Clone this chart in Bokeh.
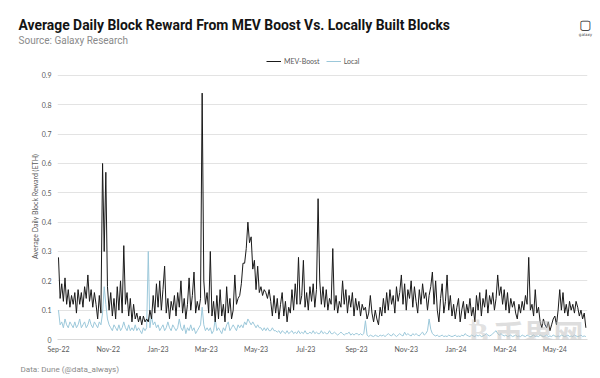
import datetime as dt
from bokeh.plotting import figure
from bokeh.layouts import column
from bokeh.models import (ColumnDataSource, FixedTicker, Legend, LegendItem, Label,
                          DatetimeTickFormatter, Range1d)
from bokeh.embed import file_html
from bokeh.resources import INLINE

# ---------------- data (one value every 2 days from 2022-09-15) ----------------
start_date = dt.date(2022, 9, 15)
step_days = 2

mev_boost = [
    0.28, 0.14, 0.19, 0.13, 0.21, 0.12, 0.17, 0.11, 0.15, 0.12,
    0.16, 0.09, 0.17, 0.12, 0.16, 0.11, 0.18, 0.14, 0.22, 0.13,
    0.17, 0.11, 0.16, 0.12, 0.07, 0.15, 0.09,
    0.60, 0.30, 0.57, 0.18,
    0.10, 0.16, 0.08, 0.14, 0.07, 0.18, 0.10, 0.20, 0.09,
    0.32, 0.12, 0.16, 0.08, 0.14, 0.06, 0.12,
    0.07, 0.09, 0.06, 0.08, 0.05, 0.08, 0.06, 0.07, 0.06,
    0.10, 0.07, 0.15, 0.09, 0.19, 0.11, 0.20, 0.10, 0.17, 0.25,
    0.09, 0.14, 0.07, 0.13, 0.10, 0.15, 0.08, 0.16, 0.11, 0.20,
    0.09, 0.14, 0.07, 0.12, 0.21, 0.10, 0.15, 0.23, 0.09, 0.13, 0.10, 0.14,
    0.84, 0.20, 0.12, 0.16, 0.09, 0.30,
    0.08, 0.13, 0.06, 0.15, 0.07, 0.17, 0.08, 0.12, 0.06, 0.18,
    0.09, 0.14, 0.07, 0.10, 0.22, 0.12, 0.14, 0.15, 0.19, 0.26,
    0.26, 0.31, 0.40, 0.33, 0.35, 0.24, 0.27, 0.17, 0.25, 0.16, 0.18, 0.15, 0.17,
    0.16, 0.14, 0.17, 0.13, 0.08,
    0.15, 0.09, 0.14, 0.07, 0.12, 0.16, 0.08, 0.13, 0.06, 0.11, 0.09, 0.17, 0.10, 0.19, 0.12,
    0.28, 0.12, 0.15, 0.27, 0.11, 0.16, 0.10, 0.18, 0.13, 0.19, 0.11, 0.17,
    0.48, 0.20, 0.12, 0.18, 0.11, 0.17, 0.10, 0.14, 0.12,
    0.31, 0.10, 0.15, 0.09, 0.13, 0.11, 0.20, 0.12,
    0.17, 0.09, 0.15, 0.11, 0.16, 0.08, 0.14, 0.10, 0.13, 0.08, 0.12, 0.10, 0.11, 0.07, 0.09,
    0.15, 0.09, 0.06, 0.10, 0.07, 0.05,
    0.11, 0.08, 0.14, 0.09, 0.16, 0.10, 0.17, 0.12, 0.15, 0.09, 0.18, 0.13, 0.16, 0.22,
    0.12, 0.19, 0.10, 0.17, 0.14, 0.20, 0.11, 0.18, 0.13, 0.09, 0.17, 0.12, 0.19, 0.14, 0.16, 0.10,
    0.15, 0.18, 0.23, 0.12, 0.20, 0.10, 0.06, 0.14, 0.19, 0.09, 0.13, 0.22, 0.10, 0.15,
    0.08, 0.12, 0.07, 0.11, 0.14, 0.06, 0.10, 0.13, 0.07, 0.12, 0.09, 0.14, 0.08, 0.11, 0.06,
    0.15, 0.10, 0.16, 0.08, 0.14, 0.11, 0.17, 0.09, 0.15, 0.12, 0.16, 0.10, 0.14,
    0.22, 0.15, 0.18, 0.12, 0.17, 0.10, 0.16, 0.09, 0.14, 0.11, 0.13, 0.09, 0.07,
    0.12, 0.09, 0.13, 0.10, 0.15, 0.12,
    0.28, 0.10, 0.12, 0.08, 0.17, 0.09, 0.11,
    0.06, 0.04, 0.07, 0.05, 0.04, 0.06, 0.03, 0.05, 0.07,
    0.08, 0.05, 0.10,
    0.17, 0.10, 0.16, 0.09, 0.12, 0.08, 0.13, 0.10, 0.12, 0.09, 0.13, 0.11, 0.08, 0.10, 0.07, 0.09, 0.04,
]

local_built = [
    0.10, 0.05, 0.06, 0.04, 0.07, 0.05, 0.04, 0.06, 0.05, 0.04,
    0.06, 0.04, 0.05, 0.07, 0.04, 0.05, 0.06, 0.04, 0.05, 0.07,
    0.05, 0.04, 0.06, 0.05, 0.04, 0.06, 0.05,
    0.09, 0.18, 0.12, 0.07,
    0.05, 0.04, 0.03, 0.05, 0.04, 0.03, 0.05, 0.03, 0.04, 0.06, 0.04, 0.03,
    0.05, 0.03, 0.04, 0.03, 0.05, 0.03, 0.04, 0.03, 0.02, 0.04, 0.03, 0.04,
    0.30,
    0.04, 0.08, 0.05, 0.06, 0.04, 0.05, 0.03, 0.04, 0.05, 0.03, 0.04, 0.06, 0.04, 0.03, 0.05, 0.04,
    0.03, 0.04, 0.07, 0.04, 0.03, 0.05, 0.02, 0.04, 0.03, 0.05, 0.03, 0.04, 0.02, 0.03, 0.04, 0.05,
    0.11,
    0.05, 0.03, 0.04, 0.03, 0.04, 0.02, 0.03, 0.07, 0.03, 0.04, 0.03,
    0.02, 0.04, 0.03, 0.05, 0.06, 0.03, 0.04, 0.05, 0.04, 0.03, 0.05,
    0.04, 0.05, 0.04, 0.06, 0.05, 0.07, 0.06, 0.05, 0.06, 0.05,
    0.04, 0.05, 0.04, 0.04, 0.03, 0.04, 0.03, 0.04, 0.03, 0.03, 0.04, 0.03, 0.03, 0.025, 0.03,
    0.02, 0.03, 0.025, 0.02, 0.03, 0.02, 0.025, 0.03, 0.02, 0.025, 0.02, 0.03, 0.02,
    0.025, 0.02, 0.03, 0.02, 0.02, 0.025, 0.02, 0.03, 0.02, 0.025, 0.02, 0.02, 0.03,
    0.02, 0.025, 0.02, 0.02, 0.03, 0.02, 0.02, 0.025, 0.02, 0.015, 0.02, 0.025, 0.02,
    0.015, 0.02, 0.02, 0.025, 0.015, 0.02, 0.015, 0.02, 0.02, 0.015, 0.02, 0.015, 0.02,
    0.064,
    0.015, 0.01, 0.015, 0.012, 0.01, 0.015, 0.012, 0.01, 0.015, 0.012, 0.015, 0.01, 0.015,
    0.02, 0.015, 0.012, 0.02, 0.015, 0.01, 0.015, 0.02, 0.015, 0.012, 0.025, 0.015, 0.02,
    0.015, 0.012, 0.02, 0.015, 0.02, 0.015, 0.012, 0.02, 0.025, 0.015, 0.02, 0.03,
    0.07, 0.035,
    0.02, 0.015, 0.012, 0.015, 0.01, 0.012, 0.015, 0.01, 0.012, 0.01, 0.015, 0.012, 0.01,
    0.012, 0.015, 0.01, 0.012, 0.01, 0.015, 0.012, 0.02, 0.015, 0.012, 0.01, 0.015, 0.012,
    0.01, 0.015, 0.012, 0.015, 0.01, 0.012, 0.015, 0.02, 0.015, 0.012, 0.015, 0.02, 0.025,
    0.03, 0.02, 0.015, 0.02, 0.015, 0.012, 0.015, 0.01, 0.012, 0.015, 0.01, 0.012, 0.015,
    0.01, 0.012, 0.01, 0.015, 0.012, 0.01, 0.015, 0.012, 0.01, 0.012, 0.015, 0.01, 0.012,
    0.01, 0.015, 0.012, 0.01, 0.012, 0.015, 0.01, 0.012, 0.01, 0.015, 0.012, 0.01, 0.012,
    0.01, 0.015, 0.012, 0.01, 0.012, 0.015, 0.01, 0.012, 0.01, 0.015, 0.012, 0.01, 0.012,
    0.015, 0.01, 0.012, 0.01,
]

tick_labels = ["Sep-22", "Nov-22", "Jan-23", "Mar-23", "May-23", "Jul-23",
               "Sep-23", "Nov-23", "Jan-24", "Mar-24", "May-24"]
tick_dates = [dt.datetime(2022, 9, 15), dt.datetime(2022, 11, 15), dt.datetime(2023, 1, 15),
              dt.datetime(2023, 3, 15), dt.datetime(2023, 5, 15), dt.datetime(2023, 7, 15),
              dt.datetime(2023, 9, 15), dt.datetime(2023, 11, 15), dt.datetime(2024, 1, 15),
              dt.datetime(2024, 3, 15), dt.datetime(2024, 5, 15)]
y_ticks = [0, 0.1, 0.2, 0.3, 0.4, 0.5, 0.6, 0.7, 0.8, 0.9]
y_tick_labels = ["0", "0.1", "0.2", "0.3", "0.4", "0.5", "0.6", "0.7", "0.8", "0.9"]

series_names = ["MEV-Boost", "Local"]
series_colors = ["#1a1a1a", "#9cc8da"]

title_text = "Average Daily Block Reward From MEV Boost Vs. Locally Built Blocks"
subtitle_text = "Source: Galaxy Research"
footer_text = "Data: Dune (@data_always)"

# ---------------- helpers ----------------
W = 600
HEAD_H, MAIN_H, FOOT_H = 68, 287, 23
title_font = "Roboto"
small_font = "Lato"
grey = "#595959"


def no_align(f):
    try:
        f.frame_align = False
    except Exception:
        pass


def blank(height):
    f = figure(width=W, height=height, output_backend="svg", toolbar_location=None, title=None,
               x_range=Range1d(0, W), y_range=Range1d(0, height),
               x_axis_location=None, y_axis_location=None, min_border=0)
    f.grid.grid_line_color = None
    f.outline_line_color = None
    f.background_fill_color = "white"
    f.border_fill_color = "white"
    no_align(f)
    return f


def screen_label(fig, x, y, text, **kw):
    # x from the frame's left edge, y up from the frame's bottom edge (pixels)
    fig.add_layout(Label(x=x, y=y, x_units="screen", y_units="screen", text=text, **kw))


def dates_for(n):
    t = dt.datetime.combine(start_date, dt.time())
    return [t + dt.timedelta(days=step_days * i) for i in range(n)]


src_mev = ColumnDataSource(dict(date=dates_for(len(mev_boost)), v=mev_boost))
src_loc = ColumnDataSource(dict(date=dates_for(len(local_built)), v=local_built))

# ---------------- header (title, subtitle, logo, legend) ----------------
head = blank(HEAD_H)
screen_label(head, 18, HEAD_H - 24, title_text, text_font=title_font,
             text_font_size="13.9px", text_font_style="bold",
             text_color="#141414", text_baseline="alphabetic")
screen_label(head, 18, HEAD_H - 39.5, subtitle_text, text_font=title_font,
             text_font_size="10px", text_color="#8a8a8a", text_baseline="alphabetic")
screen_label(head, 585, HEAD_H - 24, "▢", text_font="DejaVu Sans", text_font_size="13px",
             text_font_style="bold", text_color="#222222",
             text_align="center", text_baseline="middle")
screen_label(head, 585, HEAD_H - 34, "galaxy", text_font="DejaVu Sans", text_font_size="4px",
             text_color="#444444", text_align="center", text_baseline="middle")

# legend key renderers: the real series, which fall far outside this strip's ranges
key_renderers = [head.line("date", "v", source=s, line_color=c, line_width=1)
                 for s, c in zip([src_mev, src_loc], series_colors)]
legend = Legend(items=[LegendItem(label=n, renderers=[r]) for n, r in zip(series_names, key_renderers)],
                orientation="horizontal", location=(266, 3),
                label_text_font=small_font, label_text_font_size="7px", label_text_color=grey,
                glyph_width=15, glyph_height=8, label_height=8, label_standoff=3,
                spacing=6, padding=0, margin=0,
                border_line_color=None, background_fill_alpha=0)
head.add_layout(legend, "center")

# ---------------- main chart ----------------
t0 = dt.datetime.combine(start_date, dt.time())
p = figure(width=W, height=MAIN_H, x_axis_type="datetime", output_backend="svg",
           toolbar_location=None, title=None,
           x_range=Range1d(t0 - dt.timedelta(days=1.2), t0 + dt.timedelta(days=648)),
           y_range=Range1d(0, 0.9068),
           min_border_left=57, min_border_right=13, min_border_top=5, min_border_bottom=14)
p.outline_line_color = None
p.background_fill_color = "white"
p.border_fill_color = "white"
no_align(p)

p.line("date", "v", source=src_loc, line_color=series_colors[1], line_width=1)
p.line("date", "v", source=src_mev, line_color=series_colors[0], line_width=1)

for ax in (p.xaxis[0], p.yaxis[0]):
    ax.major_tick_line_color = None
    ax.minor_tick_line_color = None
    ax.major_tick_out = 0
    ax.major_tick_in = 0
    ax.minor_tick_out = 0
    ax.minor_tick_in = 0
    ax.major_label_text_font = small_font
    ax.major_label_text_font_size = "7px"
    ax.major_label_text_color = grey

p.yaxis.ticker = FixedTicker(ticks=y_ticks)
p.yaxis.major_label_overrides = {t: l for t, l in zip(y_ticks, y_tick_labels)}
p.yaxis.axis_line_color = None
p.yaxis.major_label_standoff = 6
p.yaxis.axis_label = "Average Daily Block Reward (ETH)"
p.yaxis.axis_label_text_font = small_font
p.yaxis.axis_label_text_font_size = "7px"
p.yaxis.axis_label_text_font_style = "normal"
p.yaxis.axis_label_text_color = grey
p.yaxis.axis_label_standoff = 0

p.xaxis.ticker = FixedTicker(ticks=[d.timestamp() * 1000 for d in tick_dates])
p.xaxis.major_label_overrides = {d.timestamp() * 1000: l for d, l in zip(tick_dates, tick_labels)}
p.xaxis.formatter = DatetimeTickFormatter(days="%b-%y", months="%b-%y", years="%b-%y")
p.xaxis.axis_line_color = "#d9d9d9"
p.xaxis.major_label_standoff = 5

p.xgrid.grid_line_color = None
p.ygrid.grid_line_color = "#e3e3e3"
p.ygrid.grid_line_width = 1

# watermark (semi-transparent, as in the source image)
screen_label(p, 436, 7, "币界网", text_font="Noto Sans CJK SC", text_font_size="30px",
             text_font_style="bold", text_color="#bdbdbd", text_alpha=0.5, text_baseline="middle")
screen_label(p, 421, 7, "₿", text_font="DejaVu Sans", text_font_size="30px",
             text_font_style="bold", text_color="#bdbdbd", text_alpha=0.45,
             text_align="center", text_baseline="middle")

# ---------------- footer ----------------
foot = blank(FOOT_H)
screen_label(foot, 20, 10, footer_text, text_font=title_font,
             text_font_size="8.1px", text_color="#8a8a8a", text_baseline="alphabetic")

layout = column(head, p, foot, spacing=0)
open("out.html", "w").write(file_html(layout, INLINE))
